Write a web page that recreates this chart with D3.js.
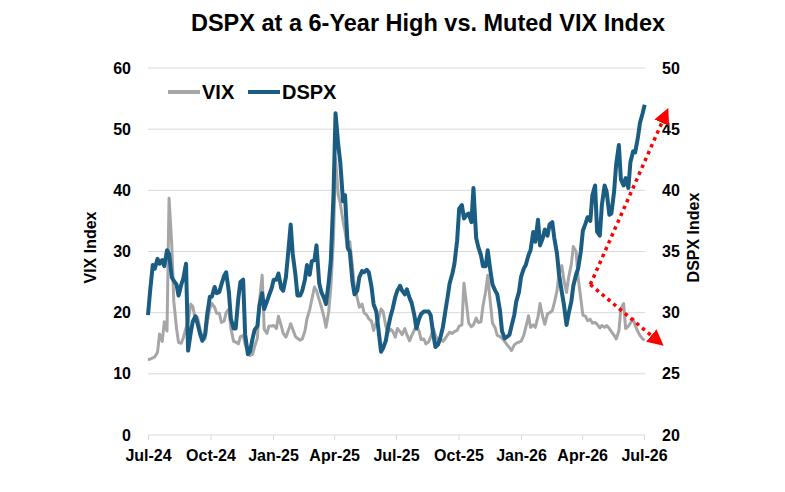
<!DOCTYPE html>
<html>
<head>
<meta charset="utf-8">
<script src="https://cdn.jsdelivr.net/npm/d3@7"></script>
<style>
  html, body { margin: 0; padding: 0; background: #fff; }
  svg { display: block; font-family: "Liberation Sans", Arial, sans-serif; }
</style>
</head>
<body>
<svg id="chart" width="785" height="492"></svg>
<script>
// twice-weekly observations (Mon / Thu)
const dates = [
  "2024-07-01","2024-07-04","2024-07-08","2024-07-11","2024-07-15","2024-07-18","2024-07-22","2024-07-25","2024-07-29","2024-08-01",
  "2024-08-05","2024-08-08","2024-08-12","2024-08-15","2024-08-19","2024-08-22","2024-08-26","2024-08-29","2024-09-02","2024-09-05",
  "2024-09-09","2024-09-12","2024-09-16","2024-09-19","2024-09-23","2024-09-26","2024-09-30","2024-10-03","2024-10-07","2024-10-10",
  "2024-10-14","2024-10-17","2024-10-21","2024-10-24","2024-10-28","2024-10-31","2024-11-04","2024-11-07","2024-11-11","2024-11-14",
  "2024-11-18","2024-11-21","2024-11-25","2024-11-28","2024-12-02","2024-12-05","2024-12-09","2024-12-12","2024-12-16","2024-12-19",
  "2024-12-23","2024-12-26","2024-12-30","2025-01-02","2025-01-06","2025-01-09","2025-01-13","2025-01-16","2025-01-20","2025-01-23",
  "2025-01-27","2025-01-30","2025-02-03","2025-02-06","2025-02-10","2025-02-13","2025-02-17","2025-02-20","2025-02-24","2025-02-27",
  "2025-03-03","2025-03-06","2025-03-10","2025-03-13","2025-03-17","2025-03-20","2025-03-24","2025-03-27","2025-03-31","2025-04-03",
  "2025-04-07","2025-04-10","2025-04-14","2025-04-17","2025-04-21","2025-04-24","2025-04-28","2025-05-01","2025-05-05","2025-05-08",
  "2025-05-12","2025-05-15","2025-05-19","2025-05-22","2025-05-26","2025-05-29","2025-06-02","2025-06-05","2025-06-09","2025-06-12",
  "2025-06-16","2025-06-19","2025-06-23","2025-06-26","2025-06-30","2025-07-03","2025-07-07","2025-07-10","2025-07-14","2025-07-17",
  "2025-07-21","2025-07-24","2025-07-28","2025-07-31","2025-08-04","2025-08-07","2025-08-11","2025-08-14","2025-08-18","2025-08-21",
  "2025-08-25","2025-08-28","2025-09-01","2025-09-04","2025-09-08","2025-09-11","2025-09-15","2025-09-18","2025-09-22","2025-09-25",
  "2025-09-29","2025-10-02","2025-10-06","2025-10-09","2025-10-13","2025-10-16","2025-10-20","2025-10-23","2025-10-27","2025-10-30",
  "2025-11-03","2025-11-06","2025-11-10","2025-11-13","2025-11-17","2025-11-20","2025-11-24","2025-11-27","2025-12-01","2025-12-04",
  "2025-12-08","2025-12-11","2025-12-15","2025-12-18","2025-12-22","2025-12-25","2025-12-29","2026-01-01","2026-01-05","2026-01-08",
  "2026-01-12","2026-01-15","2026-01-19","2026-01-22","2026-01-26","2026-01-29","2026-02-02","2026-02-05","2026-02-09","2026-02-12",
  "2026-02-16","2026-02-19","2026-02-23","2026-02-26","2026-03-02","2026-03-05","2026-03-09","2026-03-12","2026-03-16","2026-03-19",
  "2026-03-23","2026-03-26","2026-03-30","2026-04-02","2026-04-06","2026-04-09","2026-04-13","2026-04-16","2026-04-20","2026-04-23",
  "2026-04-27","2026-04-30","2026-05-04","2026-05-07","2026-05-11","2026-05-14","2026-05-18","2026-05-21","2026-05-25","2026-05-28",
  "2026-06-01","2026-06-04","2026-06-08","2026-06-11","2026-06-15","2026-06-18","2026-06-22","2026-06-25","2026-06-29","2026-07-02"
];

const vix = [
  12.3,12.4,12.6,12.8,13.5,16.5,15.3,18.5,17.0,38.7,
  31.0,21.8,17.4,15.1,15.0,15.9,17.5,18.5,21.4,21.0,
  18.6,19.2,17.2,15.9,15.7,18.3,20.7,21.5,20.9,19.9,
  19.9,18.4,18.6,20.0,20.6,17.4,15.3,15.2,14.9,16.1,
  16.3,14.8,13.7,13.0,13.2,14.5,15.8,21.8,26.1,17.3,
  16.6,17.8,17.8,17.9,17.4,19.4,17.9,16.6,16.0,16.9,
  18.2,17.3,16.1,15.8,15.5,15.7,17.0,19.0,20.5,22.1,
  24.2,23.6,22.1,21.0,19.3,17.6,20.2,24.0,32.1,45.2,
  39.2,37.9,35.0,33.3,30.3,31.6,27.5,24.0,22.4,20.9,
  21.4,20.0,19.6,19.0,18.6,17.1,18.4,18.8,20.6,20.2,
  17.8,16.7,17.3,17.0,16.0,17.4,16.9,16.4,17.4,16.4,
  15.4,16.2,17.2,17.8,17.0,15.6,15.7,14.9,15.2,16.0,
  17.4,16.3,15.4,15.7,15.3,15.7,16.4,16.8,16.6,16.9,
  17.1,17.8,18.0,24.8,21.2,18.3,17.7,18.0,19.1,18.4,
  18.5,21.1,23.5,26.1,21.5,18.3,17.5,16.3,16.1,15.8,
  15.3,14.8,14.3,13.8,14.7,15.0,15.2,15.3,16.3,17.6,
  19.5,17.6,18.0,17.6,19.3,21.5,19.3,18.1,19.8,20.0,
  20.3,21.6,23.6,26.5,27.7,25.4,23.3,25.7,27.9,30.8,
  30.0,25.8,22.3,19.6,19.4,18.7,18.9,18.3,18.4,18.1,
  17.5,17.9,17.6,17.9,17.4,16.9,16.3,15.7,17.0,20.7,
  21.5,17.4,17.8,18.3,19.0,17.9,16.9,16.3,15.7,15.5
];

const dspx = [
  29.8,31.7,33.9,33.6,34.4,34.0,34.3,33.8,35.1,34.8,
  32.9,32.6,32.3,31.4,32.3,32.8,34.0,26.9,28.4,29.3,
  29.7,29.1,28.2,27.7,28.2,29.8,31.3,31.3,32.1,31.6,
  31.7,32.3,33.0,33.3,31.7,29.5,28.7,28.7,31.2,32.5,
  32.7,28.2,26.6,26.8,27.9,28.6,28.9,30.6,31.6,30.3,
  30.9,31.4,32.0,32.7,32.7,33.2,32.0,31.8,32.9,34.7,
  37.2,34.8,33.1,31.4,31.4,31.8,32.7,33.9,33.1,34.2,
  34.3,35.5,32.4,31.7,31.2,30.7,32.5,34.2,39.6,46.3,
  43.7,42.3,39.1,39.6,35.3,35.0,32.5,31.5,31.8,32.9,
  33.4,33.3,33.5,33.3,32.1,30.7,30.1,28.7,26.8,27.1,
  27.7,28.7,29.7,30.3,31.3,31.8,32.2,31.8,31.5,31.9,
  31.2,30.8,29.8,28.7,29.5,29.9,30.1,30.1,30.1,29.8,
  28.2,27.2,27.4,27.9,28.8,29.9,31.3,32.4,33.2,34.0,
  35.9,38.5,38.8,37.7,38.0,38.1,37.4,40.2,36.1,35.4,
  34.7,33.8,33.8,35.1,33.4,32.3,31.8,31.5,30.2,28.5,
  27.9,28.0,28.2,28.9,29.8,30.9,31.7,32.9,33.6,33.9,
  34.7,35.1,36.6,35.8,37.6,35.5,36.1,36.8,36.3,37.2,
  37.4,36.1,34.8,33.1,31.7,30.7,29.0,29.9,30.9,32.2,
  33.1,33.6,35.0,36.7,37.3,37.8,37.5,39.6,40.4,36.6,
  36.3,38.8,40.4,39.9,38.0,38.1,39.9,42.1,43.7,40.9,
  40.4,41.0,40.2,42.3,43.2,43.1,44.3,45.5,46.3,47.0
];

const xTicks = ["2024-07-01","2024-10-01","2025-01-01","2025-04-01","2025-07-01",
                "2025-10-01","2026-01-01","2026-04-01","2026-07-01"];
const vixTicks = [0, 10, 20, 30, 40, 50, 60];
const dspxTicks = [20, 25, 30, 35, 40, 45, 50];

// red dotted arrows (in date / DSPX units)
const arrowStart = { date: "2026-04-13", v: 32.3 };
const arrowEnds = [
  { date: "2026-07-31", v: 46.0 },
  { date: "2026-07-19", v: 27.8 }
];

const parse = d3.timeParse("%Y-%m-%d");
const W = 785, H = 492;
const margin = { top: 68, right: 140, bottom: 57, left: 148 };
const svg = d3.select("#chart");

const x = d3.scaleTime()
  .domain([parse("2024-07-01"), parse("2026-07-01")])
  .range([margin.left, 644]);
const yL = d3.scaleLinear().domain([0, 60]).range([H - margin.bottom, margin.top]);
const yR = d3.scaleLinear().domain([20, 50]).range([H - margin.bottom, margin.top]);

const rows = dates.map((d, i) => ({ date: parse(d), vix: vix[i], dspx: dspx[i] }));

// gridlines
svg.append("g")
  .selectAll("line")
  .data(vixTicks.filter(t => t > 0))
  .join("line")
  .attr("x1", margin.left).attr("x2", W - margin.right)
  .attr("y1", d => yL(d)).attr("y2", d => yL(d))
  .attr("stroke", "#d9d9d9").attr("stroke-width", 1);

// x axis
const gx = svg.append("g")
  .attr("transform", `translate(0,${H - margin.bottom})`)
  .call(d3.axisBottom(x)
    .tickValues(xTicks.map(parse))
    .tickFormat(d3.timeFormat("%b-%y"))
    .tickSize(5).tickSizeOuter(0).tickPadding(10));
gx.select(".domain").attr("d", `M${margin.left},0H${W - margin.right}`).attr("stroke", "#d9d9d9");
gx.selectAll(".tick line").attr("stroke", "#d9d9d9");
gx.selectAll("text").attr("font-size", "16px").attr("font-weight", "bold").attr("fill", "#000");

// left axis
const gl = svg.append("g")
  .attr("transform", `translate(${margin.left},0)`)
  .call(d3.axisLeft(yL).tickValues(vixTicks).tickSize(0).tickPadding(17));
gl.select(".domain").remove();
gl.selectAll("text").attr("font-size", "16px").attr("font-weight", "bold").attr("fill", "#000");

// right axis
const gr = svg.append("g")
  .attr("transform", `translate(${W - margin.right},0)`)
  .call(d3.axisRight(yR).tickValues(dspxTicks).tickSize(0).tickPadding(17));
gr.select(".domain").remove();
gr.selectAll("text").attr("font-size", "16px").attr("font-weight", "bold").attr("fill", "#000");

// lines
const lineV = d3.line().x(d => x(d.date)).y(d => yL(d.vix));
const lineD = d3.line().x(d => x(d.date)).y(d => yR(d.dspx));

svg.append("path").datum(rows)
  .attr("d", lineV).attr("fill", "none")
  .attr("stroke", "#a6a6a6").attr("stroke-width", 3).attr("stroke-linejoin", "round");
svg.append("path").datum(rows)
  .attr("d", lineD).attr("fill", "none")
  .attr("stroke", "#1b5d82").attr("stroke-width", 4).attr("stroke-linejoin", "round");

// arrows
svg.append("defs").append("marker")
  .attr("id", "head").attr("viewBox", "0 0 10 10")
  .attr("refX", 4).attr("refY", 5)
  .attr("markerWidth", 4.6).attr("markerHeight", 4.6)
  .attr("orient", "auto")
  .append("path").attr("d", "M0,0L10,5L0,10Z").attr("fill", "#ff0000");

svg.append("g").selectAll("line")
  .data(arrowEnds)
  .join("line")
  .attr("x1", x(parse(arrowStart.date))).attr("y1", yR(arrowStart.v))
  .attr("x2", d => x(parse(d.date))).attr("y2", d => yR(d.v))
  .attr("stroke", "#ff0000").attr("stroke-width", 3.5)
  .attr("stroke-dasharray", "3.5,4")
  .attr("marker-end", "url(#head)");

// title
svg.append("text")
  .attr("x", 428).attr("y", 31)
  .attr("text-anchor", "middle")
  .attr("font-size", "23.5px").attr("font-weight", "bold")
  .text("DSPX at a 6-Year High vs. Muted VIX Index");

// axis titles
svg.append("text")
  .attr("transform", `translate(96,${(yL(0) + yL(60)) / 2 - 4}) rotate(-90)`)
  .attr("text-anchor", "middle")
  .attr("font-size", "16px").attr("font-weight", "bold")
  .text("VIX Index");
svg.append("text")
  .attr("transform", `translate(699,${(yL(0) + yL(60)) / 2 - 14}) rotate(-90)`)
  .attr("text-anchor", "middle")
  .attr("font-size", "16px").attr("font-weight", "bold")
  .text("DSPX Index");

// legend
const legend = [
  { name: "VIX", color: "#a6a6a6", x: 168 },
  { name: "DSPX", color: "#1b5d82", x: 248 }
];
const lg = svg.append("g").selectAll("g").data(legend).join("g")
  .attr("transform", d => `translate(${d.x},92)`);
lg.append("line").attr("x1", 0).attr("x2", 32)
  .attr("stroke", d => d.color).attr("stroke-width", 4);
lg.append("text").attr("x", 34).attr("dy", "0.36em")
  .attr("font-size", "20px").attr("font-weight", "bold")
  .text(d => d.name);
</script>
</body>
</html>
